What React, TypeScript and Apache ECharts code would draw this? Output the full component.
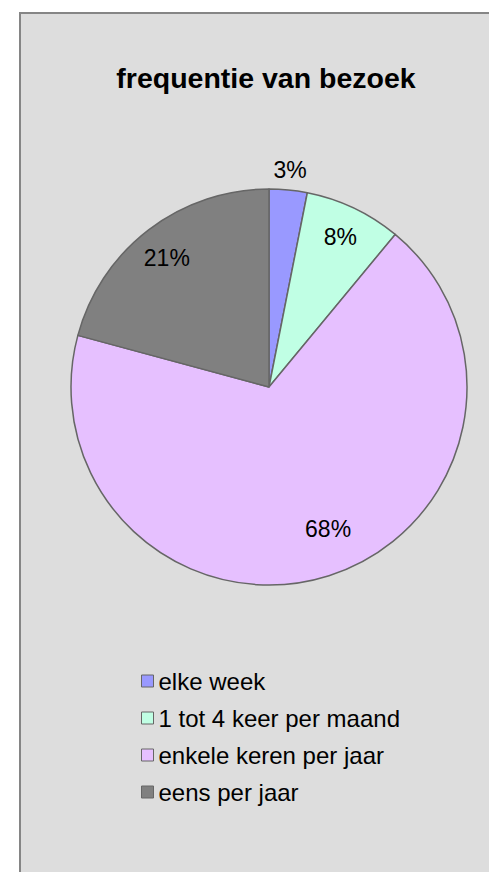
import React, { useEffect, useRef } from "react";
import * as echarts from "echarts";

const categories = [
  "elke week",
  "1 tot 4 keer per maand",
  "enkele keren per jaar",
  "eens per jaar",
];
const shares = [3.1, 7.9, 68.2, 20.8];
const colors = ["#9999ff", "#c0ffe4", "#e6c0ff", "#808080"];
// label placement (style only): relative radius and angular shift in degrees
const labelRadiusFactor = [1.1, 0.84, 0.775, 0.83];
const labelAngleShift = [0, 0, -5, -1];

const CENTER: [number, number] = [269, 387];
const RADIUS = 198;
const FONT = '"Liberation Sans", Arial, sans-serif';

export default function App() {
  const ref = useRef<HTMLDivElement>(null);
  useEffect(() => {
    if (!ref.current) return;
    const chart = echarts.init(ref.current, undefined, { renderer: "svg" });
    const total = shares.reduce((a, b) => a + b, 0);
    const cum: number[] = [];
    let acc = 0;
    shares.forEach((v) => {
      cum.push(acc + v / 2);
      acc += v;
    });
    chart.setOption({
      animation: false,
      backgroundColor: "#ffffff",
      graphic: [
        {
          type: "rect",
          z: -10,
          shape: { x: 20, y: 13, width: 500, height: 900 },
          style: { fill: "#dddddd", stroke: "#858585", lineWidth: 2 },
        },
      ],
      title: {
        text: "frequentie van bezoek",
        left: 261,
        top: 58,
        textAlign: "center",
        textStyle: {
          fontFamily: FONT,
          fontWeight: "bold",
          fontSize: 28.5,
          color: "#000000",
        },
      },
      legend: {
        orient: "vertical",
        left: 136,
        top: 664,
        padding: 5,
        itemWidth: 12,
        itemHeight: 12,
        itemGap: 13,
        icon: "rect",
        data: categories,
        textStyle: {
          fontFamily: FONT,
          fontSize: 24,
          lineHeight: 24,
          color: "#000000",
        },
        itemStyle: { borderColor: "#666666", borderWidth: 1 },
      },
      series: [
        {
          type: "pie",
          center: CENTER,
          radius: RADIUS,
          startAngle: 90,
          clockwise: true,
          silent: true,
          data: categories.map((name, i) => ({
            name,
            value: shares[i],
            itemStyle: { color: colors[i] },
          })),
          itemStyle: { borderColor: "#666666", borderWidth: 1.5 },
          label: {
            show: true,
            position: "inside",
            fontFamily: FONT,
            fontSize: 23,
            color: "#000000",
            formatter: (p: any) => Math.round(p.percent) + "%",
          },
          labelLine: { show: false },
          labelLayout: (params: any) => {
            const i = params.dataIndex;
            const ang =
              (cum[i] / total) * Math.PI * 2 +
              (labelAngleShift[i] * Math.PI) / 180;
            const r = RADIUS * labelRadiusFactor[i];
            return {
              x: CENTER[0] + r * Math.sin(ang),
              y: CENTER[1] - r * Math.cos(ang),
              align: "center",
              verticalAlign: "middle",
            };
          },
        },
      ],
    });
    return () => chart.dispose();
  }, []);
  return (
    <div
      ref={ref}
      style={{ position: "fixed", left: 0, top: 0, width: 489, height: 872 }}
    />
  );
}
